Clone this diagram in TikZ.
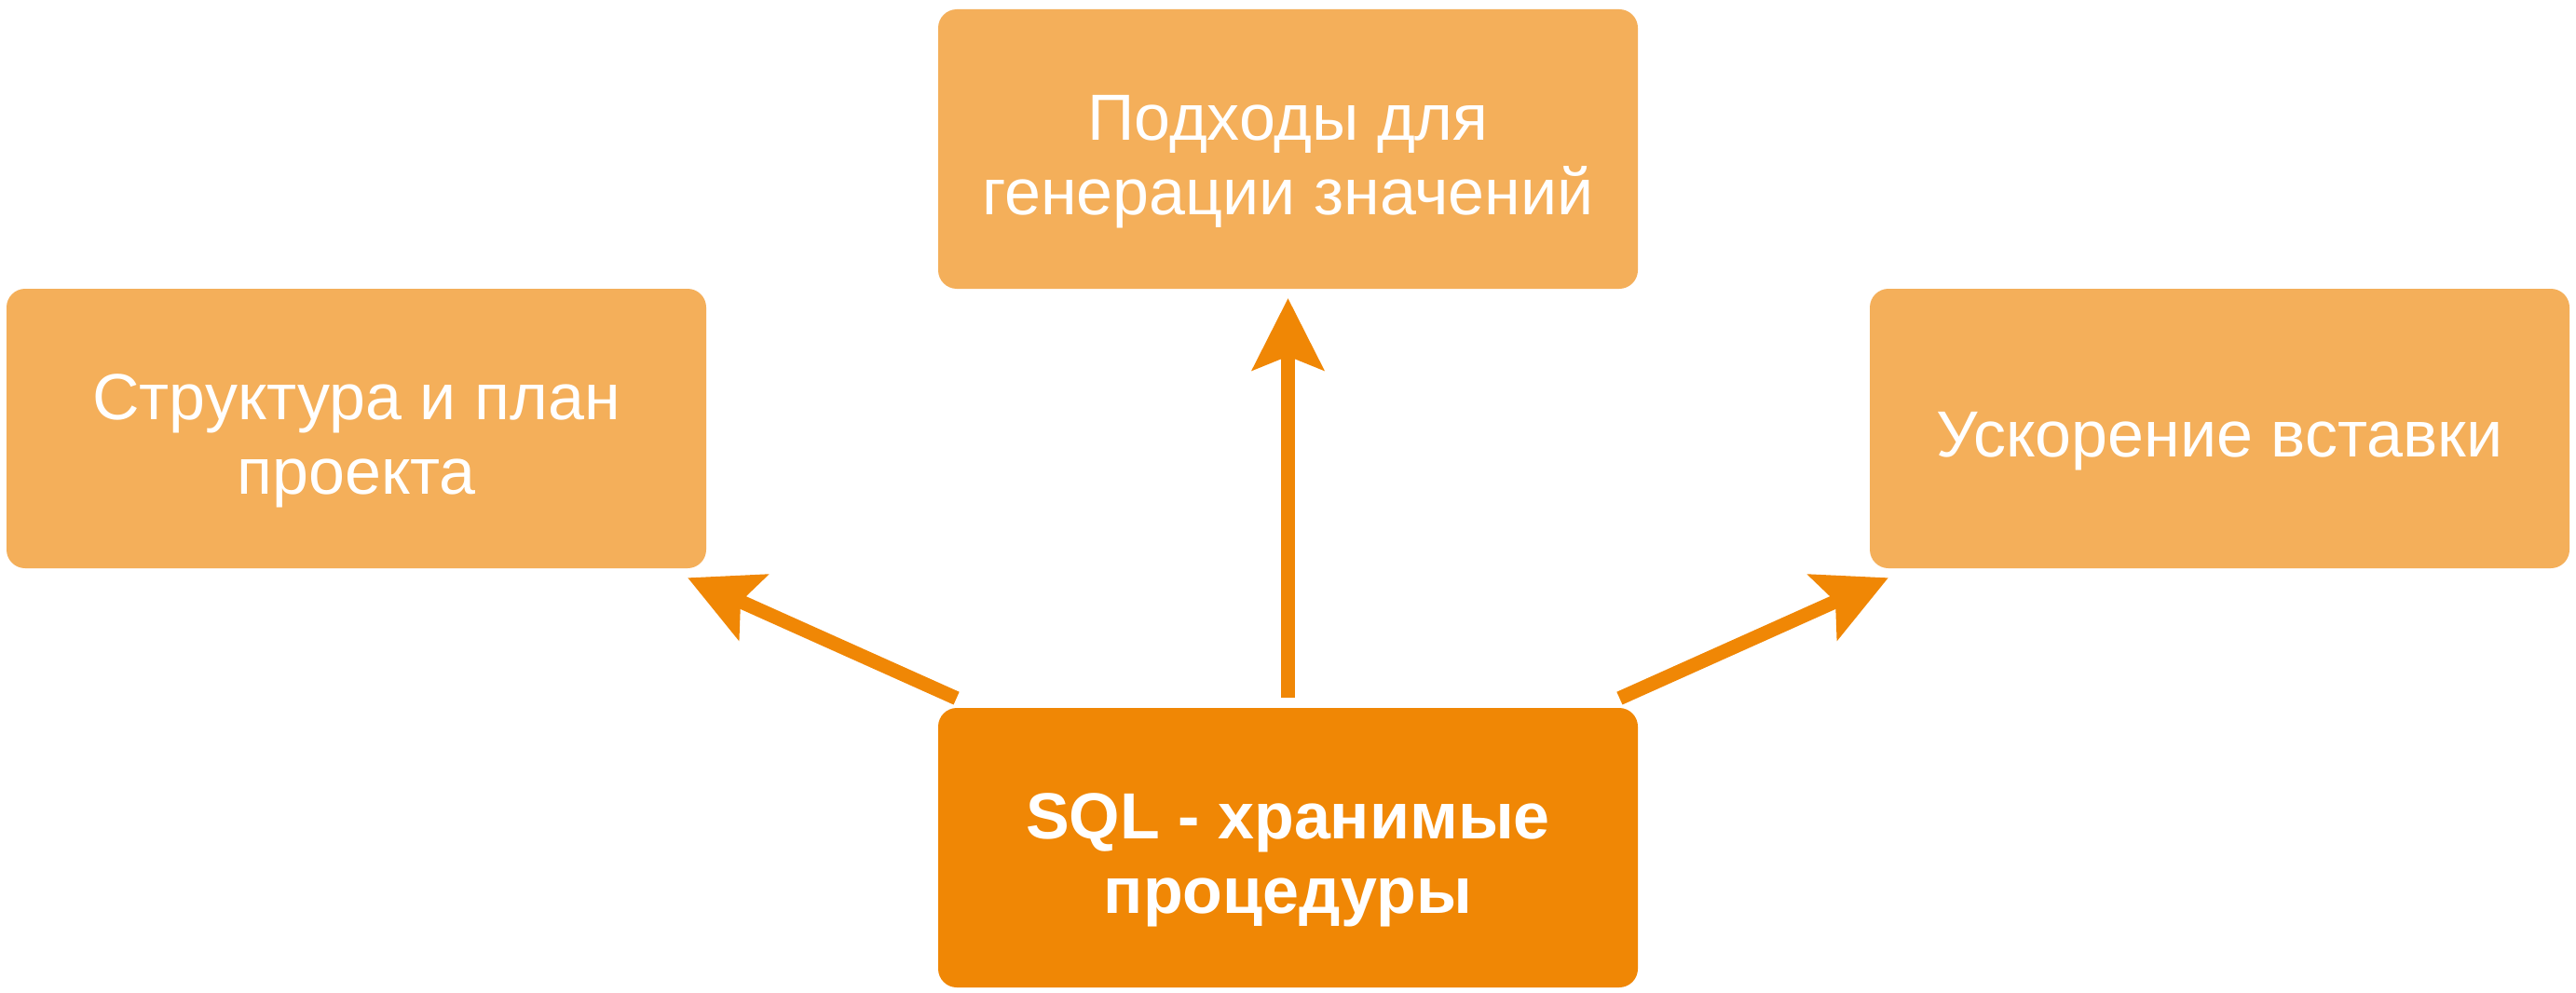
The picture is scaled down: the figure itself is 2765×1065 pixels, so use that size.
\documentclass[tikz,border=0pt]{standalone}
\usepackage{fontspec}
\setmainfont{Liberation Sans}
\usetikzlibrary{arrows.meta,calc}
\definecolor{lightor}{RGB}{244,175,90}
\definecolor{darkor}{RGB}{240,135,5}
\newcommand{\boxtext}[1]{\raisebox{-7pt}[\height][\depth]{\begin{tabular}{@{}c@{}}#1\end{tabular}}}
\tikzset{
  box/.style={rectangle, rounded corners=10pt, minimum width=375.5pt, minimum height=150pt,
    inner sep=0pt, text=white, font=\fontsize{35}{40}\selectfont},
  sub/.style={box, fill=lightor},
  main/.style={box, fill=darkor, font=\fontsize{35}{40}\selectfont\bfseries},
  conn/.style={draw=darkor, line width=7.5pt, line cap=butt,
    -{Stealth[length=39pt, width=39.5pt, inset=8pt, fill=darkor, line width=0pt]}}
}
\begin{document}
\begin{tikzpicture}[x=0.5pt, y=-0.5pt]
\fill[white] (0,0) rectangle (2765,1065);
\useasboundingbox (0,0) rectangle (2765,1065);
\node[sub] (top) at (1382.5,160) {\boxtext{Подходы для\\генерации значений}};
\node[sub] (left) at (382.5,460) {\boxtext{Структура и план\\проекта}};
\node[sub] (right) at (2382.5,460) {\boxtext{Ускорение вставки}};
\node[main] (bot) at (1382.5,910) {\boxtext{SQL - хранимые\\процедуры}};
\coordinate (lt) at ($(bot.north west)+(10pt,5pt)$);
\coordinate (lh) at ($(left.south east)+(-10pt,-5pt)$);
\coordinate (rt) at ($(bot.north east)+(-10pt,5pt)$);
\coordinate (rh) at ($(right.south west)+(10pt,-5pt)$);
\draw[conn, shorten <=5.5pt, shorten >=5pt] (bot.north) -- (top.south);
\draw[conn] (lt) -- (lh);
\draw[conn] (rt) -- (rh);
\end{tikzpicture}
\end{document}
